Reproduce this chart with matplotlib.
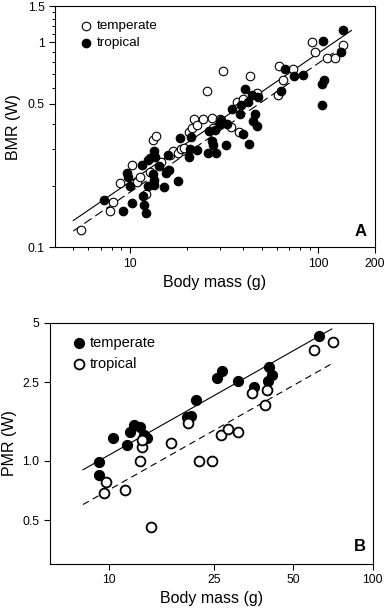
import numpy as np
import matplotlib
matplotlib.use('Agg')
import matplotlib.pyplot as plt

plt.rcParams['font.family'] = ['Liberation Sans', 'DejaVu Sans']

# Panel A: basal metabolic rate vs body mass
temp_mass_a = [5.5, 7.8, 8.1, 8.9, 10.3, 10.9, 11.3, 12.2, 12.8, 13.2,
               13.8, 14.7, 16.3, 17.0, 17.9, 18.6, 19.4, 20.7, 21.4, 21.9,
               22.6, 24.5, 25.6, 27.2, 27.7, 30.1, 31.3, 34.2, 36.9, 37.6,
               38.1, 39.7, 43.4, 47.1, 61.4, 62.1, 65.2, 73.1, 92.2, 96.0,
               111.7, 122.7, 134.7]
temp_bmr_a = [0.122, 0.150, 0.166, 0.205, 0.253, 0.209, 0.221, 0.182, 0.234, 0.334,
              0.348, 0.261, 0.281, 0.296, 0.288, 0.300, 0.305, 0.364, 0.383, 0.422,
              0.395, 0.422, 0.575, 0.425, 0.380, 0.422, 0.725, 0.386, 0.511, 0.478,
              0.364, 0.526, 0.686, 0.566, 0.554, 0.767, 0.654, 0.739, 1.00, 0.895,
              0.838, 0.838, 0.964]

trop_mass_a = [7.3, 9.2, 9.7, 9.8, 10.0, 10.3, 11.6, 11.8, 11.9, 12.2,
               12.4, 12.5, 12.8, 13.3, 13.4, 13.4, 13.5, 13.6, 14.2, 15.2,
               15.5, 15.9, 16.2, 18.1, 18.4, 20.7, 20.8, 21.0, 22.8, 26.1,
               26.4, 27.3, 27.5, 28.3, 28.6, 30.1, 30.3, 32.4, 32.9, 34.8,
               38.6, 38.9, 39.7, 40.8, 42.4, 43.0, 44.3, 45.2, 46.1, 47.1,
               48.0, 63.1, 66.6, 74.3, 83.3, 104.2, 104.2, 106.4, 106.8, 131.5,
               135.8]
trop_bmr_a = [0.170, 0.151, 0.231, 0.219, 0.198, 0.165, 0.253, 0.177, 0.161, 0.147,
              0.265, 0.199, 0.273, 0.227, 0.213, 0.201, 0.296, 0.277, 0.249, 0.196,
              0.231, 0.283, 0.239, 0.211, 0.340, 0.276, 0.302, 0.344, 0.299, 0.288,
              0.369, 0.331, 0.314, 0.373, 0.288, 0.398, 0.418, 0.316, 0.400, 0.471,
              0.447, 0.496, 0.356, 0.590, 0.511, 0.319, 0.550, 0.414, 0.447, 0.390,
              0.538, 0.579, 0.744, 0.684, 0.689, 0.626, 0.492, 1.01, 0.654, 0.895,
              1.14]

# fitted lines in panel A (end points)
solid_x_a = [5, 150]
solid_y_a = [0.135, 1.14]
dashed_x_a = [5, 140]
dashed_y_a = [0.12, 0.975]

# Panel B: peak metabolic rate vs body mass
temp_mass_b = [9.2, 9.2, 10.4, 11.7, 12.1, 12.5, 13.1, 13.6, 14.0, 19.8,
               20.6, 21.5, 25.7, 26.8, 31.0, 35.4, 40.0, 40.5, 41.6, 62.8]
temp_pmr_b = [0.98, 0.85, 1.30, 1.20, 1.39, 1.52, 1.48, 1.35, 1.30, 1.66,
              1.68, 2.03, 2.62, 2.84, 2.52, 2.37, 2.52, 2.99, 2.72, 4.30]

trop_mass_b = [9.6, 9.8, 11.5, 13.2, 13.4, 13.4, 14.5, 17.3, 20.0, 22.0,
               24.7, 26.7, 28.4, 30.8, 35.0, 39.0, 39.7, 59.8, 70.6]
trop_pmr_b = [0.69, 0.78, 0.71, 1.00, 1.18, 1.27, 0.46, 1.23, 1.55, 1.00,
              1.00, 1.35, 1.44, 1.40, 2.21, 1.92, 2.29, 3.63, 3.97]

fit_x_b = [8, 70]
solid_y_b = [0.90, 4.65]
dashed_y_b = [0.60, 3.10]

xticks_a = [10, 100, 200]
yticks_a = [0.1, 0.5, 1, 1.5]
xticks_b = [10, 25, 50, 100]
yticks_b = [0.5, 1.0, 2.5, 5]


fig = plt.figure(figsize=(3.87, 6.09), dpi=100)

# ---- panel A ----
ax = fig.add_axes([0.1421, 0.5939, 0.8269, 0.3962])
ax.plot(solid_x_a, solid_y_a, color='black', lw=0.8, zorder=1)
ax.plot(dashed_x_a, dashed_y_a, color='black', lw=0.8, dashes=(8, 4), zorder=1)
ax.scatter(temp_mass_a, temp_bmr_a, s=38, facecolor='white', edgecolor='black',
           linewidths=0.8, label='temperate', zorder=2)
ax.scatter(trop_mass_a, trop_bmr_a, s=38, facecolor='black', edgecolor='black',
           linewidths=0.8, label='tropical', zorder=3)
ax.set_xscale('log')
ax.set_yscale('log')
ax.set_xlim(4, 200)
ax.set_ylim(0.1, 1.5)
ax.set_xticks(xticks_a)
ax.set_xticklabels([str(t) for t in xticks_a])
ax.set_xticks([5, 6, 7, 8, 9, 20, 30, 40, 50, 60, 70, 80, 90], minor=True)
ax.set_yticks(yticks_a)
ax.set_yticklabels(['0.1', '0.5', '1', '1.5'])
ax.set_yticks([0.2, 0.3, 0.4, 0.6, 0.7, 0.8, 0.9, 1.1, 1.2, 1.3, 1.4], minor=True)
ax.xaxis.set_minor_formatter(plt.NullFormatter())
ax.yaxis.set_minor_formatter(plt.NullFormatter())
ax.tick_params(which='major', direction='out', length=4, width=0.8, labelsize=8.8)
ax.tick_params(which='minor', direction='out', length=2.2, width=0.7)
ax.set_xlabel('Body mass (g)', fontsize=11.5, labelpad=4)
ax.set_ylabel('BMR (W)', fontsize=11.5, labelpad=5)
ax.text(0.975, 0.034, 'A', transform=ax.transAxes, ha='right', va='bottom',
        fontsize=12, fontweight='bold')
ax.legend(loc='upper left', bbox_to_anchor=(0.055, 0.965), frameon=False,
          handletextpad=0.2, labelspacing=0.33, borderaxespad=0,
          handlelength=1.2, fontsize=9.7)

# ---- panel B ----
ax = fig.add_axes([0.1292, 0.0739, 0.8339, 0.3962])
ax.plot(fit_x_b, solid_y_b, color='black', lw=0.8, zorder=1)
ax.plot(fit_x_b, dashed_y_b, color='black', lw=0.8, dashes=(6, 4), zorder=1)
ax.scatter(temp_mass_b, temp_pmr_b, s=50, facecolor='black', edgecolor='black',
           linewidths=1.0, label='temperate', zorder=2)
ax.scatter(trop_mass_b, trop_pmr_b, s=50, facecolor='white', edgecolor='black',
           linewidths=1.3, label='tropical', zorder=3)
ax.set_xscale('log')
ax.set_yscale('log')
ax.set_xlim(6, 100)
ax.set_ylim(0.3, 5)
ax.set_xticks(xticks_b)
ax.set_xticklabels([str(t) for t in xticks_b])
ax.set_xticks([], minor=True)
ax.set_yticks(yticks_b)
ax.set_yticklabels(['0.5', '1.0', '2.5', '5'])
ax.set_yticks([], minor=True)
ax.tick_params(which='major', direction='out', length=4, width=0.8, labelsize=8.8)
ax.set_xlabel('Body mass (g)', fontsize=11.5, labelpad=3)
ax.set_ylabel('PMR (W)', fontsize=11.5, labelpad=4)
ax.text(0.979, 0.041, 'B', transform=ax.transAxes, ha='right', va='bottom',
        fontsize=12, fontweight='bold')
ax.legend(loc='upper left', bbox_to_anchor=(0.047, 0.97), frameon=False,
          handletextpad=0.2, labelspacing=0.5, borderaxespad=0,
          handlelength=1.1, fontsize=10.5)

plt.savefig('out.png', dpi=100)
